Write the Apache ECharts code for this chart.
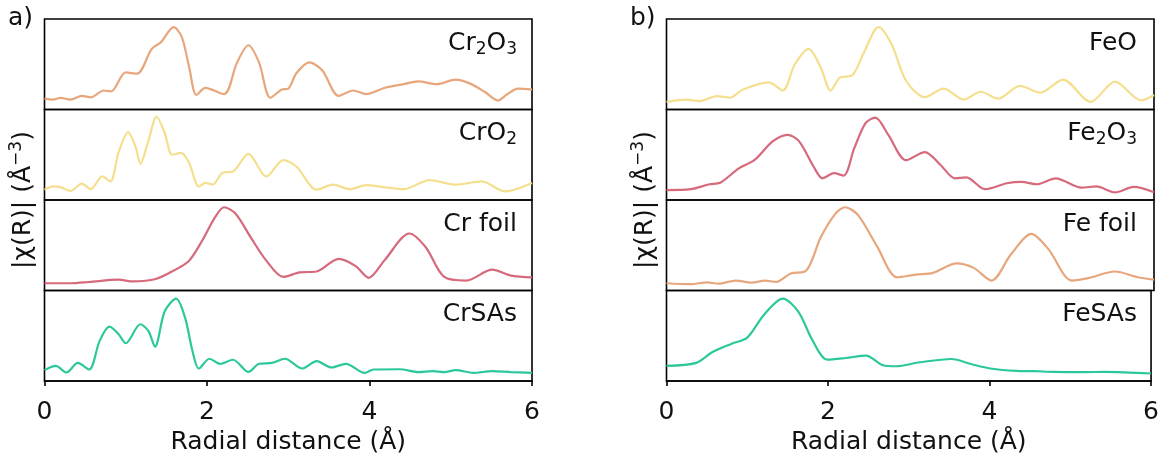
<!DOCTYPE html>
<html>
<head>
<meta charset="utf-8">
<script src="https://cdn.jsdelivr.net/npm/echarts@6/dist/echarts.min.js"></script>
<style>
html,body{margin:0;padding:0;background:#fff;}
#c{width:1162px;height:459px;}
</style>
</head>
<body>
<div id="c"></div>
<script>
// ---- data: [R (Å), |χ(R)| in arbitrary units] ----
const xTicks = [0, 2, 4, 6];
const cr2o3 = [[0,12],[0.1,11],[0.2,12.8],[0.32,11],[0.46,15],[0.57,13.5],[0.73,21],[0.82,20],[1.0,41],[1.14,39.6],[1.32,67],[1.43,74],[1.59,91],[1.69,80],[1.78,47],[1.87,16],[1.98,24],[2.21,17],[2.37,52],[2.51,71],[2.64,52],[2.78,13],[2.92,22],[3.0,23],[3.1,40],[3.26,52],[3.42,43],[3.62,15],[3.8,21],[3.96,17],[4.19,24],[4.42,28],[4.6,31],[4.83,28],[5.06,33],[5.24,28.6],[5.42,19.4],[5.58,10],[5.69,16.5],[5.83,23],[6.0,22]];
const cro2 = [[0,11.4],[0.11,15],[0.2,14],[0.32,10],[0.46,18],[0.57,12],[0.71,26],[0.81,20.5],[0.91,52],[1.03,75],[1.12,59],[1.18,40],[1.28,66],[1.38,92],[1.48,74],[1.57,50],[1.68,52],[1.78,41],[1.9,15],[1.98,19],[2.07,17],[2.19,30],[2.32,31.5],[2.51,51],[2.73,26],[2.94,44],[3.1,37],[3.35,11.4],[3.55,17],[3.76,12],[3.96,16.5],[4.19,14],[4.42,12],[4.74,22],[5.06,17],[5.38,20.5],[5.67,9.5],[6.0,18.7]];
const crFoil = [[0,8],[0.32,8],[0.55,9.4],[0.91,12],[1.09,10],[1.37,12.7],[1.59,22],[1.78,33],[1.94,55],[2.1,81],[2.21,92],[2.35,85],[2.55,57],[2.73,33],[2.94,15],[3.14,20],[3.35,21],[3.62,35],[3.83,27],[3.99,14],[4.19,34],[4.49,63],[4.69,48],[4.92,15],[5.19,11],[5.51,23],[5.74,16.5],[6.0,14.6]];
const crSAs = [[0,12],[0.14,16.7],[0.27,9.4],[0.41,20],[0.55,12.7],[0.68,44.6],[0.8,60],[0.91,52],[1.0,41.7],[1.18,62.7],[1.28,55],[1.36,38],[1.48,77],[1.62,91],[1.73,70],[1.82,33.7],[1.9,13.8],[2.03,24.6],[2.16,19],[2.32,23.5],[2.51,10],[2.64,19],[2.8,20],[2.96,24.6],[3.17,13.8],[3.35,22],[3.53,15],[3.71,19],[3.94,9],[4.05,12.7],[4.37,13],[4.6,9.8],[4.78,10.9],[4.92,9.8],[5.06,12],[5.28,9],[5.51,10.9],[5.74,9.8],[6.0,9]];
const feo = [[0,8.5],[0.25,11],[0.41,9.3],[0.62,14.8],[0.78,13],[0.94,22],[1.26,30],[1.43,21],[1.58,50],[1.75,67],[1.9,46],[2.02,21],[2.13,35],[2.29,38],[2.43,63],[2.61,91],[2.77,72],[2.95,31.5],[3.18,13.7],[3.41,23],[3.66,11],[3.87,19.6],[4.08,12],[4.35,26],[4.6,18.5],[4.88,33],[5.22,8.5],[5.52,30.7],[5.84,10],[6.0,16]];
const fe2o3 = [[0,11],[0.3,12],[0.53,17.4],[0.66,19],[0.89,35],[1.08,44],[1.31,65],[1.49,72],[1.63,65],[1.81,37],[1.92,24],[2.06,29.6],[2.18,27],[2.31,57],[2.45,85],[2.57,91],[2.73,72],[2.95,44],[3.18,53],[3.37,39],[3.55,24],[3.69,25],[3.92,12],[4.19,18.5],[4.37,20],[4.56,17.4],[4.79,24],[5.11,13.7],[5.29,15],[5.52,8.5],[5.75,14.4],[6.0,8.5]];
const feFoil = [[0,8],[0.3,7],[0.5,9],[0.64,7.5],[0.85,11],[1.05,8.6],[1.21,11],[1.35,9.4],[1.53,18.7],[1.72,22],[1.9,59],[2.08,85],[2.2,92],[2.36,83],[2.59,49],[2.84,14.6],[3.07,17.6],[3.28,19.5],[3.57,30],[3.78,25],[4.0,11],[4.24,40],[4.49,62.5],[4.7,45.7],[4.99,11],[5.2,13.9],[5.52,21],[5.8,14.6],[6.0,12]];
const feSAs = [[0,16.7],[0.37,20],[0.57,32],[0.8,41],[1.0,48],[1.21,73.5],[1.44,91],[1.63,77],[1.81,44.6],[1.99,23.6],[2.22,25.4],[2.47,28],[2.68,17.4],[2.84,16.3],[3.14,20.7],[3.53,24.3],[3.78,18.5],[4.01,13.8],[4.33,11.2],[4.56,10.9],[4.79,10.1],[5.15,9.8],[5.43,10.1],[6.0,8.3]];

const leftNames = ['{n|Cr}{s|2}{n|O}{s|3}', '{n|CrO}{s|2}', '{n|Cr foil}', '{n|CrSAs}'];
const rightNames = ['{n|FeO}', '{n|Fe}{s|2}{n|O}{s|3}', '{n|Fe foil}', '{n|FeSAs}'];
const leftSeries = [cr2o3, cro2, crFoil, crSAs];
const rightSeries = [feo, fe2o3, feFoil, feSAs];

const C_ORANGE = '#E8A67C', C_YELLOW = '#F4DF8E', C_RED = '#D6697B', C_TEAL = '#2CC89B';
const leftColors = [C_ORANGE, C_YELLOW, C_RED, C_TEAL];
const rightColors = [C_YELLOW, C_RED, C_ORANGE, C_TEAL];

// ---- layout ----
const FONT = 'DejaVu Sans';
const W = 1162;
const panelLeft = [44.5, 666.5];
const panelW = 487.5;
const tops = [19, 109.5, 200, 290.5];
const subH = 90.5;

const grids = [], xAxes = [], yAxes = [], series = [], titles = [];
const rich = {
  n: {fontSize: 25, fontFamily: FONT, fontWeight: 'normal', color: '#111', lineHeight: 30},
  s: {fontSize: 17, fontFamily: FONT, fontWeight: 'normal', color: '#111', lineHeight: 11, verticalAlign: 'bottom'}
};
[0, 1].forEach(p => {
  const names = p === 0 ? leftNames : rightNames;
  const data = p === 0 ? leftSeries : rightSeries;
  const cols = p === 0 ? leftColors : rightColors;
  for (let i = 0; i < 4; i++) {
    const gi = grids.length;
    const bottom = i === 3;
    grids.push({left: panelLeft[p], top: tops[i], width: panelW, height: subH,
      show: true, borderColor: '#000', borderWidth: 1.6, backgroundColor: 'transparent', containLabel: false});
    xAxes.push({type: 'value', gridIndex: gi, min: 0, max: 6, interval: 2,
      show: bottom,
      axisLine: {show: bottom, lineStyle: {color: '#000', width: 1.6}},
      axisTick: {show: bottom, length: 5, lineStyle: {color: '#000', width: 1.6}},
      axisLabel: {show: bottom, fontSize: 25, fontFamily: FONT, color: '#111', margin: 19},
      splitLine: {show: false},
      name: bottom ? 'Radial distance (Å)' : '', nameLocation: 'middle', nameGap: 49,
      nameTextStyle: {fontSize: 25, fontFamily: FONT, color: '#111'}
    });
    yAxes.push({type: 'value', gridIndex: gi, min: 0, max: 100, show: false, splitLine: {show: false}});
    series.push({type: 'line', xAxisIndex: gi, yAxisIndex: gi, data: data[i],
      showSymbol: false, smooth: 0.3, lineStyle: {color: cols[i], width: 2.2}, itemStyle: {color: cols[i]},
      silent: true, animation: false});
    titles.push({text: names[i], right: p === 0 ? (W - 517) : (W - 1137), top: tops[i] + 9, padding: 0,
      textStyle: {fontWeight: 'normal', fontFamily: FONT, rich: rich}});
  }
});

const ylabelRich = {
  n: {fontSize: 25, fontFamily: FONT, fill: '#111', lineHeight: 30},
  u: {fontSize: 17, fontFamily: FONT, fill: '#111', lineHeight: 10, verticalAlign: 'top'}
};
const graphics = [
  {type: 'text', left: 8, top: 6, style: {text: 'a)', font: '25px "DejaVu Sans"', fill: '#111'}},
  {type: 'text', left: 630, top: 6, style: {text: 'b)', font: '25px "DejaVu Sans"', fill: '#111'}},
  {type: 'text', x: 23, y: 200, rotation: Math.PI / 2,
    style: {text: '{n|\u007Cχ(R)\u007C (Å}{u|−3}{n|)}', rich: ylabelRich, align: 'center', verticalAlign: 'middle'}},
  {type: 'text', x: 645, y: 200, rotation: Math.PI / 2,
    style: {text: '{n|\u007Cχ(R)\u007C (Å}{u|−3}{n|)}', rich: ylabelRich, align: 'center', verticalAlign: 'middle'}}
];

const chart = echarts.init(document.getElementById('c'), null, {renderer: 'canvas'});
chart.setOption({
  animation: false,
  backgroundColor: '#fff',
  textStyle: {fontFamily: FONT},
  title: titles,
  grid: grids,
  xAxis: xAxes,
  yAxis: yAxes,
  series: series,
  graphic: graphics
});
</script>
</body>
</html>
